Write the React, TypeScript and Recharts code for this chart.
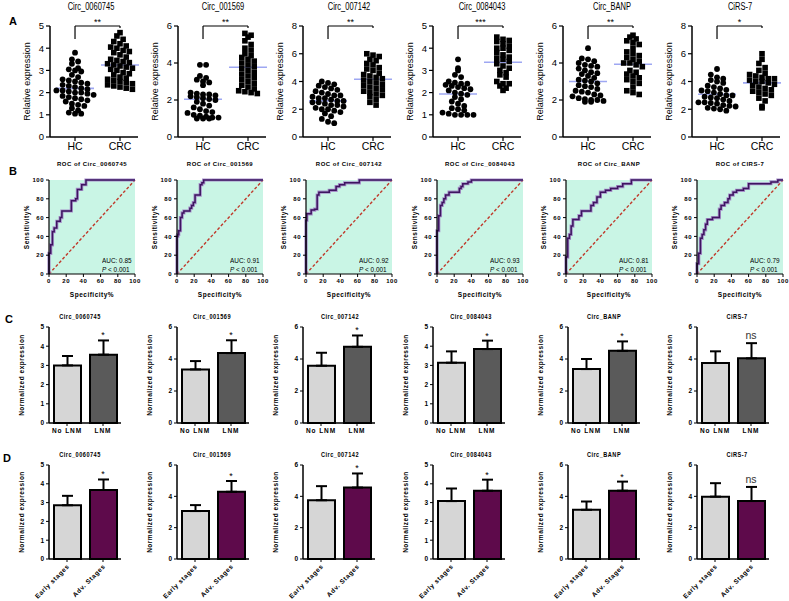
import React from 'react';
import {
  ScatterChart, Scatter, XAxis, YAxis, ReferenceLine, ReferenceArea, ReferenceDot,
  ComposedChart, Line, BarChart, Bar, ErrorBar, Cell,
} from 'recharts';

const FONT = 'Arial, "Liberation Sans", Helvetica, sans-serif';

// ---------- shared labels ----------
const circNames = ['Circ_0060745', 'Circ_001569', 'Circ_007142', 'Circ_0084043', 'Circ_BANP', 'CiRS-7'];
const rocTitles = ['ROC of Circ_0060745', 'ROC of Circ_001569', 'ROC of Circ_007142', 'ROC of Circ_0084043', 'ROC of Circ_BANP', 'ROC of CIRS-7'];

// ---------- Panel A: relative expression (HC vs CRC) ----------
const groupLabels = ['HC', 'CRC'];
const sigA = ['**', '**', '**', '***', '**', '*'];
const yMaxA = [5, 6, 8, 5, 6, 8];
const yTicksA = [[0, 1, 2, 3, 4, 5], [0, 2, 4, 6], [0, 2, 4, 6, 8], [0, 1, 2, 3, 4, 5], [0, 2, 4, 6], [0, 2, 4, 6, 8]];

const hc0060745 = [3.8, 3.5, 3.4, 3.3, 3.1, 3.05, 3.0, 2.95, 2.8, 2.7, 2.6, 2.55, 2.5, 2.45, 2.4, 2.35, 2.3, 2.25, 2.2, 2.15, 2.1, 2.1, 2.05, 2.0, 2.0, 1.95, 1.9, 1.85, 1.8, 1.75, 1.7, 1.65, 1.6, 1.5, 1.45, 1.4, 1.3, 1.2, 1.1, 1.05, 1.05];
const crc0060745 = [4.7, 4.55, 4.4, 4.3, 4.2, 4.1, 4.05, 4.0, 3.9, 3.85, 3.8, 3.7, 3.6, 3.5, 3.45, 3.4, 3.35, 3.3, 3.25, 3.2, 3.15, 3.1, 3.05, 3.0, 2.9, 2.85, 2.8, 2.7, 2.65, 2.6, 2.55, 2.5, 2.45, 2.4, 2.35, 2.3, 2.25, 2.2, 2.15];
const hc001569 = [3.9, 3.9, 3.3, 3.2, 3.1, 3.0, 2.95, 2.8, 2.4, 2.35, 2.3, 2.3, 2.25, 2.2, 2.15, 2.1, 2.05, 2.0, 1.9, 1.8, 1.7, 1.6, 1.5, 1.4, 1.35, 1.3, 1.2, 1.15, 1.1, 1.05, 1.05, 1.0, 1.0, 1.0];
const crc001569 = [5.6, 5.5, 5.4, 5.2, 5.0, 4.8, 4.7, 4.5, 4.4, 4.3, 4.2, 4.1, 4.0, 3.9, 3.8, 3.7, 3.6, 3.5, 3.4, 3.3, 3.2, 3.1, 3.0, 2.9, 2.8, 2.7, 2.6, 2.5, 2.45, 2.4, 2.35];
const hc007142 = [4.0, 3.9, 3.8, 3.7, 3.6, 3.5, 3.4, 3.3, 3.2, 3.1, 3.0, 3.0, 2.9, 2.8, 2.8, 2.7, 2.6, 2.6, 2.5, 2.5, 2.4, 2.3, 2.3, 2.2, 2.1, 2.0, 2.0, 1.9, 1.8, 1.7, 1.5, 1.3, 1.1, 1.0];
const crc007142 = [6.0, 5.9, 5.8, 5.6, 5.5, 5.3, 5.2, 5.0, 4.9, 4.8, 4.6, 4.5, 4.4, 4.3, 4.2, 4.1, 4.0, 3.9, 3.8, 3.7, 3.6, 3.5, 3.4, 3.3, 3.2, 3.1, 3.0, 2.9, 2.7, 2.5, 2.3];
const hc0084043 = [3.5, 3.1, 3.0, 2.8, 2.7, 2.5, 2.45, 2.4, 2.4, 2.35, 2.3, 2.25, 2.2, 2.15, 2.1, 2.0, 1.95, 1.9, 1.8, 1.7, 1.6, 1.5, 1.4, 1.3, 1.25, 1.2, 1.1, 1.05, 1.0, 1.0, 1.0, 1.0];
const crc0084043 = [4.5, 4.4, 4.35, 4.3, 4.2, 4.1, 4.0, 4.0, 3.9, 3.8, 3.7, 3.6, 3.55, 3.5, 3.4, 3.3, 3.2, 3.1, 3.0, 2.9, 2.8, 2.7, 2.5, 2.4, 2.4, 2.3, 2.2, 2.1];
const hcBANP = [4.8, 4.25, 4.2, 4.1, 4.0, 3.9, 3.85, 3.8, 3.7, 3.6, 3.5, 3.45, 3.4, 3.3, 3.2, 3.1, 3.05, 3.0, 2.9, 2.8, 2.75, 2.7, 2.6, 2.5, 2.45, 2.4, 2.3, 2.25, 2.2, 2.1, 2.05, 2.0, 2.0, 1.95, 1.9, 1.9];
const crcBANP = [5.5, 5.4, 5.3, 5.2, 5.1, 5.0, 4.8, 4.6, 4.5, 4.4, 4.3, 4.2, 4.1, 4.0, 4.0, 3.9, 3.8, 3.6, 3.5, 3.4, 3.3, 3.2, 3.1, 3.0, 2.9, 2.7, 2.5, 2.4, 2.3];
const hcCiRS7 = [4.9, 4.5, 4.3, 4.2, 4.1, 4.0, 3.9, 3.7, 3.6, 3.5, 3.4, 3.35, 3.3, 3.2, 3.1, 3.0, 3.0, 2.9, 2.85, 2.8, 2.7, 2.6, 2.5, 2.5, 2.45, 2.4, 2.3, 2.25, 2.2, 2.1, 2.05, 2.0, 1.9];
const crcCiRS7 = [6.0, 5.6, 5.3, 5.0, 4.8, 4.6, 4.5, 4.4, 4.3, 4.2, 4.2, 4.1, 4.0, 4.0, 3.9, 3.8, 3.7, 3.6, 3.5, 3.4, 3.3, 3.2, 3.1, 3.0, 2.8, 2.6, 2.2, 2.1];

const hcSets = [hc0060745, hc001569, hc007142, hc0084043, hcBANP, hcCiRS7];
const crcSets = [crc0060745, crc001569, crc007142, crc0084043, crcBANP, crcCiRS7];

// ---------- Panel B: ROC curves (100-specificity %, sensitivity %) ----------
const roc0060745 = [[0, 0], [0, 22], [2, 22], [2, 31], [4, 31], [4, 45], [6, 45], [6, 49], [9, 49], [9, 56], [13, 56], [13, 60], [15, 60], [15, 67], [26, 67], [26, 78], [31, 78], [31, 80], [33, 80], [33, 90], [38, 90], [38, 95], [43, 95], [43, 100], [100, 100]];
const roc001569 = [[0, 0], [0, 40], [1, 40], [1, 42], [2, 42], [2, 46], [4, 46], [4, 60], [6, 60], [6, 65], [8, 65], [8, 67], [15, 67], [15, 70], [17, 70], [17, 73], [19, 73], [19, 76], [21, 76], [21, 84], [27, 84], [27, 95], [29, 95], [29, 97], [31, 97], [31, 100], [100, 100]];
const roc007142 = [[0, 0], [0, 57], [1, 57], [1, 64], [6, 64], [6, 68], [10, 68], [10, 69], [13, 69], [13, 84], [15, 84], [15, 87], [27, 87], [27, 89], [35, 89], [35, 93], [39, 93], [39, 95], [45, 95], [45, 97], [62, 97], [62, 100], [100, 100]];
const roc0084043 = [[0, 0], [0, 46], [2, 46], [2, 62], [4, 62], [4, 73], [6, 73], [6, 76], [8, 76], [8, 80], [10, 80], [10, 84], [14, 84], [14, 87], [26, 87], [26, 91], [28, 91], [28, 93], [30, 93], [30, 96], [36, 96], [36, 98], [40, 98], [40, 100], [100, 100]];
const rocBANP = [[0, 0], [0, 18], [2, 18], [2, 38], [4, 38], [4, 42], [6, 42], [6, 51], [8, 51], [8, 58], [15, 58], [15, 62], [18, 62], [18, 67], [29, 67], [29, 73], [32, 73], [32, 76], [36, 76], [36, 82], [40, 82], [40, 87], [46, 87], [46, 89], [52, 89], [52, 91], [60, 91], [60, 93], [66, 93], [66, 96], [76, 96], [76, 100], [100, 100]];
const rocCiRS7 = [[0, 0], [0, 11], [2, 11], [2, 22], [4, 22], [4, 38], [6, 38], [6, 42], [8, 42], [8, 47], [10, 47], [10, 53], [12, 53], [12, 58], [18, 58], [18, 60], [26, 60], [26, 69], [28, 69], [28, 73], [32, 73], [32, 76], [36, 76], [36, 80], [38, 80], [38, 84], [42, 84], [42, 87], [46, 87], [46, 89], [54, 89], [54, 91], [60, 91], [60, 96], [86, 96], [86, 98], [94, 98], [94, 100], [100, 100]];
const rocSets = [roc0060745, roc001569, roc007142, roc0084043, rocBANP, rocCiRS7];
const aucValues = ['0.85', '0.91', '0.92', '0.93', '0.81', '0.79'];
const rocTicks = [0, 20, 40, 60, 80, 100];

// ---------- Panel C: lymph node metastasis ----------
const lnmLabels = ['No LNM', 'LNM'];
const noLnmMean = [3.0, 3.35, 3.58, 3.14, 3.37, 3.75];
const noLnmTop = [3.49, 3.87, 4.39, 3.73, 4.0, 4.48];
const lnmMean = [3.56, 4.37, 4.76, 3.85, 4.51, 4.04];
const lnmTop = [4.3, 5.17, 5.47, 4.29, 5.1, 4.99];
const sigC = ['*', '*', '*', '*', '*', 'ns'];

// ---------- Panel D: stages ----------
const stageLabels = ['Early stages', 'Adv. Stages'];
const earlyMean = [2.86, 3.06, 3.75, 3.08, 3.14, 3.98];
const earlyTop = [3.36, 3.44, 4.65, 3.75, 3.67, 4.84];
const advMean = [3.67, 4.29, 4.56, 3.63, 4.36, 3.7];
const advTop = [4.23, 4.98, 5.46, 4.22, 4.94, 4.6];
const sigD = ['*', '*', '*', '*', '*', 'ns'];

const yMaxCD = [5, 6, 6, 5, 6, 6];
const yTicksCD = [[0, 1, 2, 3, 4, 5], [0, 2, 4, 6], [0, 2, 4, 6], [0, 1, 2, 3, 4, 5], [0, 2, 4, 6], [0, 2, 4, 6]];

// ---------- layout ----------
const axisXA = [50, 178, 303, 433, 563, 692];
const titleXA = [91, 223, 349, 482, 612, 740];
const rocLeft = [49, 177, 306, 437, 566, 697];
const axisXCD = [49, 177, 303, 433, 568, 697];
const titleXCD = [80, 212, 340, 471, 604, 737];

type TxtProps = { x: number; y: number; size: number; bold?: boolean; sx?: number; ls?: number; align?: 'center' | 'left'; children: React.ReactNode };
function Txt({ x, y, size, bold, sx = 1, ls = 0, align = 'center', children }: TxtProps) {
  const w = 200;
  return (
    <div style={{
      position: 'absolute', left: align === 'center' ? x - w / 2 : x, top: y - size * 0.6, width: w,
      textAlign: align, fontSize: size, lineHeight: `${size * 1.2}px`, fontWeight: bold ? 700 : 400,
      letterSpacing: ls, whiteSpace: 'nowrap', transform: `scaleX(${sx})`,
      transformOrigin: align === 'center' ? '50% 50%' : '0 50%', color: '#000', fontFamily: FONT,
    }}>{children}</div>
  );
}

// ---------- Scatter panel ----------
const PLOT_W_A = 88;
const PLOT_H_A = 111;
const XDOM_A: [number, number] = [0.444, 2.4];
const PX_PER_X = PLOT_W_A / (XDOM_A[1] - XDOM_A[0]);

function swarm(vals: number[], center: number, ymax: number) {
  const pxPerVal = PLOT_H_A / ymax;
  const binSize = 5.5 / pxPerVal;
  const step = 6.2 / PX_PER_X;
  const bins = new Map<number, number[]>();
  vals.forEach((v) => {
    const k = Math.round(v / binSize);
    if (!bins.has(k)) bins.set(k, []);
    bins.get(k)!.push(v);
  });
  const pts: { x: number; y: number }[] = [];
  bins.forEach((arr) => arr.forEach((v, i) => pts.push({ x: center + (i - (arr.length - 1) / 2) * step, y: v })));
  return pts;
}
const mean = (a: number[]) => a.reduce((s, v) => s + v, 0) / a.length;

const CircleDot = (p: any) => <circle cx={p.cx} cy={p.cy} r={2.9} fill="#000" />;
const SquareDot = (p: any) => <rect x={p.cx - 2.8} y={p.cy - 2.8} width={5.6} height={5.6} fill="#000" />;

function ScatterPanel({ i }: { i: number }) {
  const ymax = yMaxA[i];
  const pxPerVal = PLOT_H_A / ymax;
  const hcPts = swarm(hcSets[i], 1, ymax);
  const crcPts = swarm(crcSets[i], 2, ymax);
  const mHc = mean(hcSets[i]);
  const mCrc = mean(crcSets[i]);
  const leg = 13 / pxPerVal;
  const shortLeg = 2 / pxPerVal;
  const half = 19 / PX_PER_X;
  const blk = { stroke: '#000', strokeWidth: 1.2 };
  return (
    <div style={{ position: 'absolute', left: axisXA[i] - 50, top: 0 }}>
      <ScatterChart width={50 + PLOT_W_A + 4} height={160} margin={{ top: 26, right: 4, bottom: 5, left: 0 }}>
        <XAxis type="number" dataKey="x" domain={XDOM_A} ticks={[1, 2]} allowDataOverflow
          tickFormatter={(v: number) => groupLabels[v - 1]} height={18} tickSize={4}
          axisLine={{ stroke: '#000', strokeWidth: 1.5 }} tickLine={{ stroke: '#000', strokeWidth: 1.2 }}
          tick={{ fill: '#000', fontSize: 10.5, fontFamily: FONT }} />
        <YAxis type="number" dataKey="y" domain={[0, ymax]} ticks={yTicksA[i]} width={50} tickSize={4}
          axisLine={{ stroke: '#000', strokeWidth: 1.5 }} tickLine={{ stroke: '#000', strokeWidth: 1.2 }}
          tick={{ fill: '#000', fontSize: 9.5, fontFamily: FONT }}
          label={{ value: 'Relative expression', angle: -90, position: 'insideLeft', offset: 27, style: { textAnchor: 'middle', fontSize: 9, fill: '#000', fontFamily: FONT } }} />
        <Scatter data={hcPts} shape={CircleDot} isAnimationActive={false} />
        <Scatter data={crcPts} shape={SquareDot} isAnimationActive={false} />
        <ReferenceLine segment={[{ x: 1 - half, y: mHc }, { x: 1 + half, y: mHc }]} stroke="#9ea7f2" strokeWidth={1.6} ifOverflow="visible" />
        <ReferenceLine segment={[{ x: 2 - half, y: mCrc }, { x: 2 + half, y: mCrc }]} stroke="#9ea7f2" strokeWidth={1.6} ifOverflow="visible" />
        <ReferenceLine segment={[{ x: 1, y: ymax }, { x: 2, y: ymax }]} {...blk} ifOverflow="visible"
          label={{ value: sigA[i], position: 'top', offset: 1, fill: '#000', fontSize: 9, fontFamily: FONT }} />
        <ReferenceLine segment={[{ x: 1, y: ymax }, { x: 1, y: ymax - leg }]} {...blk} ifOverflow="visible" />
        <ReferenceLine segment={[{ x: 2, y: ymax }, { x: 2, y: ymax - shortLeg }]} {...blk} ifOverflow="visible" />
      </ScatterChart>
    </div>
  );
}

// ---------- ROC panel ----------
const rocTick = { fill: '#000', fontSize: 6, fontWeight: 700, letterSpacing: 0.5, fontFamily: FONT };
function RocPanel({ i }: { i: number }) {
  const data = rocSets[i].map(([x, y]) => ({ x, y }));
  return (
    <div style={{ position: 'absolute', left: rocLeft[i] - 35, top: 158 }}>
      <ComposedChart width={35 + 86 + 8} height={145} margin={{ top: 22, right: 8, bottom: 4, left: 0 }}>
        <XAxis type="number" dataKey="x" domain={[0, 100]} ticks={rocTicks} height={25} tickSize={3}
          axisLine={{ stroke: '#000', strokeWidth: 1.2 }} tickLine={{ stroke: '#000' }} tick={rocTick}
          label={{ value: 'Specificity%', position: 'insideBottom', offset: 2, style: { fontSize: 6.5, fontWeight: 700, letterSpacing: 0.5, fill: '#000', fontFamily: FONT } }} />
        <YAxis type="number" domain={[0, 100]} ticks={rocTicks} width={35} tickSize={3}
          axisLine={{ stroke: '#000', strokeWidth: 1.2 }} tickLine={{ stroke: '#000' }} tick={rocTick}
          label={{ value: 'Sensitivity%', angle: -90, position: 'insideLeft', offset: 13, style: { textAnchor: 'middle', fontSize: 6.5, fontWeight: 700, letterSpacing: 0.5, fill: '#000', fontFamily: FONT } }} />
        <ReferenceArea x1={0} x2={100} y1={0} y2={100} fill="#c9f5e5" fillOpacity={1} stroke="none" ifOverflow="visible" />
        <ReferenceLine segment={[{ x: 0, y: 0 }, { x: 100, y: 100 }]} stroke="#c0392b" strokeWidth={1.4} strokeDasharray="3 2" ifOverflow="visible" />
        <Line data={data} dataKey="y" type="linear" stroke="#a690c9" strokeWidth={3.2} dot={false} isAnimationActive={false} />
        <Line data={data} dataKey="y" type="linear" stroke="#3d1560" strokeWidth={1.5} dot={false} isAnimationActive={false} />
      </ComposedChart>
    </div>
  );
}

// ---------- Bar panels ----------
const RotTick = (p: any) => (
  <text x={p.x} y={p.y} transform={`rotate(-45, ${p.x}, ${p.y})`} textAnchor="end" dy={4}
    fontSize={6.5} fontWeight={700} letterSpacing={0.6} fill="#000" fontFamily={FONT}>{p.payload.value}</text>
);

type BarProps = { i: number; names: string[]; means: number[]; tops: number[]; colors: string[]; sig: string; top: number; rotate: boolean };
function BarPanel({ i, names, means, tops, colors, sig, top, rotate }: BarProps) {
  const data = names.map((n, k) => ({ name: n, v: means[k], err: [0, tops[k] - means[k]] }));
  const H = rotate ? 156 : 140;
  const mt = rotate ? 20 : 22;
  const xh = rotate ? 42 : 20;
  const mb = rotate ? 0 : 2;
  const ymax = yMaxCD[i];
  const isNs = sig === 'ns';
  return (
    <div style={{ position: 'absolute', left: axisXCD[i] - 35, top }}>
      <BarChart width={35 + 72 + 5} height={H} data={data} margin={{ top: mt, right: 5, bottom: mb, left: 0 }} barCategoryGap={0}>
        <XAxis dataKey="name" type="category" height={xh} interval={0} tickSize={3}
          axisLine={{ stroke: '#000', strokeWidth: 1.5 }} tickLine={{ stroke: '#000' }}
          tick={rotate ? RotTick : { fill: '#000', fontSize: 6.5, fontWeight: 700, letterSpacing: 0.9, fontFamily: FONT }} />
        <YAxis type="number" domain={[0, ymax]} ticks={yTicksCD[i]} width={35} tickSize={3}
          axisLine={{ stroke: '#000', strokeWidth: 1.5 }} tickLine={{ stroke: '#000' }}
          tick={{ fill: '#000', fontSize: 6.5, fontWeight: 700, fontFamily: FONT }}
          label={{ value: 'Normalized expression', angle: -90, position: 'insideLeft', offset: 8, style: { textAnchor: 'middle', fontSize: 6.5, fontWeight: 700, letterSpacing: 0.5, fill: '#000', fontFamily: FONT } }} />
        <Bar dataKey="v" barSize={27} stroke="#000" strokeWidth={2} isAnimationActive={false}>
          {data.map((d, k) => <Cell key={k} fill={colors[k]} />)}
          <ErrorBar dataKey="err" direction="y" width={5.5} stroke="#000" strokeWidth={2} />
        </Bar>
        <ReferenceDot x={names[1]} y={tops[1]} r={0} fill="none" stroke="none" ifOverflow="visible"
          label={{ value: sig, position: 'top', offset: isNs ? 4 : 2, fill: isNs ? '#333' : '#000', fontSize: isNs ? 10.5 : 9, fontFamily: FONT }} />
      </BarChart>
    </div>
  );
}

export default function App() {
  const idx = [0, 1, 2, 3, 4, 5];
  return (
    <div style={{ position: 'absolute', left: 0, top: 0, width: 789, height: 601, background: '#fff', overflow: 'hidden', fontFamily: FONT }}>
      <Txt x={13} y={22} size={11} bold>A</Txt>
      <Txt x={13} y={172} size={11} bold>B</Txt>
      <Txt x={9} y={320} size={11} bold>C</Txt>
      <Txt x={7} y={459} size={11} bold>D</Txt>

      {idx.map((i) => <Txt key={'ta' + i} x={titleXA[i]} y={7} size={10} sx={0.75}>{circNames[i]}</Txt>)}
      {idx.map((i) => <ScatterPanel key={'a' + i} i={i} />)}

      {idx.map((i) => <Txt key={'tb' + i} x={rocLeft[i] + 43} y={165} size={6} bold ls={0.5}>{rocTitles[i]}</Txt>)}
      {idx.map((i) => <RocPanel key={'b' + i} i={i} />)}
      {idx.map((i) => (
        <React.Fragment key={'auc' + i}>
          <Txt x={rocLeft[i] + 53} y={261} size={8} sx={0.8} align="left">AUC: {aucValues[i]}</Txt>
          <Txt x={rocLeft[i] + 53} y={269.5} size={8} sx={0.8} align="left"><i>P</i> &lt; 0.001</Txt>
        </React.Fragment>
      ))}

      {idx.map((i) => <Txt key={'tc' + i} x={titleXCD[i]} y={317} size={7} bold ls={0.6} sx={0.8}>{circNames[i]}</Txt>)}
      {idx.map((i) => (
        <BarPanel key={'c' + i} i={i} names={lnmLabels} means={[noLnmMean[i], lnmMean[i]]} tops={[noLnmTop[i], lnmTop[i]]}
          colors={['#d6d6d6', '#5a5a5a']} sig={sigC[i]} top={305} rotate={false} />
      ))}

      {idx.map((i) => <Txt key={'td' + i} x={titleXCD[i]} y={455} size={7} bold ls={0.6} sx={0.8}>{circNames[i]}</Txt>)}
      {idx.map((i) => (
        <BarPanel key={'d' + i} i={i} names={stageLabels} means={[earlyMean[i], advMean[i]]} tops={[earlyTop[i], advTop[i]]}
          colors={['#d6d6d6', '#5e0a4b']} sig={sigD[i]} top={445} rotate={true} />
      ))}
    </div>
  );
}
